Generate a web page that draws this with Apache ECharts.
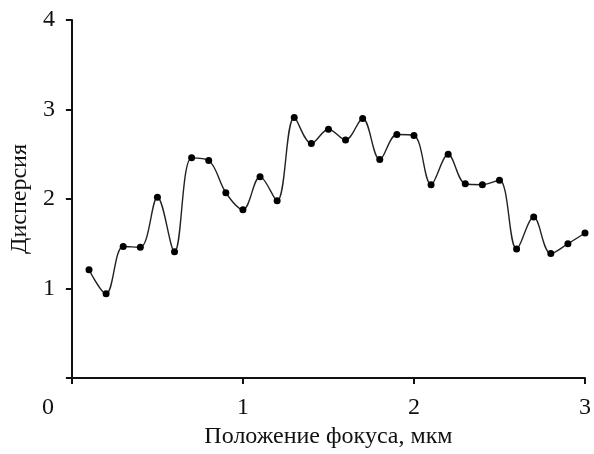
<!DOCTYPE html>
<html>
<head>
<meta charset="utf-8">
<script src="https://cdn.jsdelivr.net/npm/echarts@6/dist/echarts.min.js"></script>
<style>html,body{margin:0;padding:0;background:#fff}#c{width:594px;height:454px}</style>
</head>
<body>
<div id="c"></div>
<script>
const xValues = [0.1,0.2,0.3,0.4,0.5,0.6,0.7,0.8,0.9,1.0,1.1,1.2,1.3,1.4,1.5,1.6,1.7,1.8,1.9,2.0,2.1,2.2,2.3,2.4,2.5,2.6,2.7,2.8,2.9,3.0];
const dispersion = [1.21,0.94,1.47,1.46,2.02,1.41,2.46,2.43,2.07,1.88,2.25,1.98,2.91,2.62,2.78,2.66,2.90,2.44,2.72,2.71,2.16,2.50,2.17,2.16,2.21,1.44,1.80,1.39,1.50,1.62];
const xTicks = [0,1,2,3];
const yTicks = [1,2,3,4];
const xTitle = 'Положение фокуса, мкм';
const yTitle = 'Дисперсия';

const chart = echarts.init(document.getElementById('c'), null, {renderer:'canvas'});
const font = 'Liberation Serif';
const fs = 24;
chart.setOption({
  animation:false,
  backgroundColor:'#fff',
  grid:{left:69,right:6,top:20,bottom:74,containLabel:false},
  xAxis:{
    type:'value',min:0,max:3,interval:1,
    name:xTitle,nameLocation:'middle',nameGap:47,
    nameTextStyle:{fontFamily:font,fontSize:fs,color:'#111'},
    axisLine:{show:true,onZero:false,lineStyle:{color:'#111',width:2}},
    axisTick:{show:true,inside:false,length:6,lineStyle:{color:'#111',width:2}},
    axisLabel:{margin:18,fontFamily:font,fontSize:fs,color:'#111',
      formatter:function(v){return xTicks.indexOf(v)===0?'{z|'+v+'}':String(v);},
      rich:{z:{fontFamily:font,fontSize:fs,color:'#111',padding:[0,48,0,0]}}},
    splitLine:{show:false}
  },
  yAxis:{
    type:'value',min:0,max:4,interval:1,
    name:yTitle,nameLocation:'middle',nameGap:37,nameRotate:90,
    nameTextStyle:{fontFamily:font,fontSize:fs,color:'#111'},
    axisLine:{show:true,lineStyle:{color:'#111',width:2}},
    axisTick:{show:true,inside:false,length:6,lineStyle:{color:'#111',width:2}},
    axisLabel:{margin:17,fontFamily:font,fontSize:fs,color:'#111',
      formatter:function(v){return yTicks.indexOf(v)>=0?String(v):'';}},
    splitLine:{show:false}
  },
  series:[{
    type:'line',
    data:xValues.map((x,i)=>[x,dispersion[i]]),
    smooth:0.35,
    symbol:'circle',symbolSize:7,
    lineStyle:{color:'#222',width:1.4},
    itemStyle:{color:'#000'}
  }]
});
</script>
</body>
</html>
